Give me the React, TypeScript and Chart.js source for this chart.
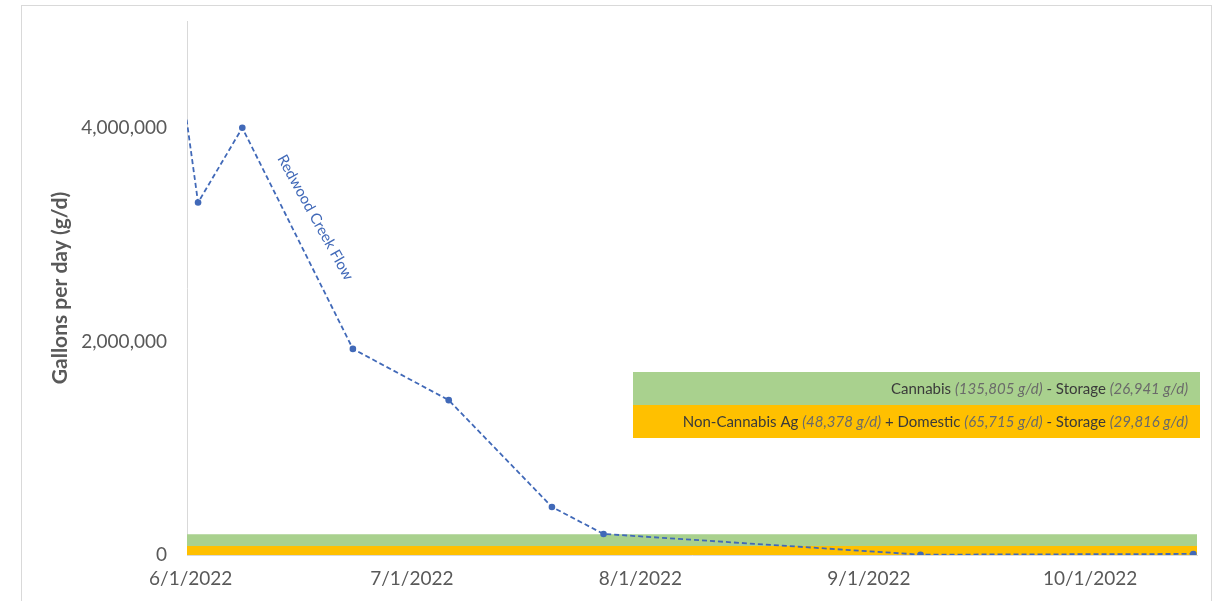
import { useEffect, useRef } from "react";
import { Chart, registerables } from "chart.js";

Chart.register(...registerables);

// Redwood Creek flow samples (gallons per day)
const flowDates = [
  "2022-05-31",
  "2022-06-02",
  "2022-06-08",
  "2022-06-23",
  "2022-07-06",
  "2022-07-20",
  "2022-07-27",
  "2022-09-08",
  "2022-10-15",
];
const flowValues = [4300000, 3300000, 4000000, 1930000, 1450000, 450000, 197000, 3000, 10000];

// Axis ticks
const xTickDates = ["2022-06-01", "2022-07-01", "2022-08-01", "2022-09-01", "2022-10-01"];
const yTickValues = [0, 2000000, 4000000];

// Demand components (g/d)
const cannabisDemand = 135805;
const cannabisStorage = 26941;
const nonCannabisAgDemand = 48378;
const domesticDemand = 65715;
const otherStorage = 29816;

const BASE_DATE = Date.UTC(2022, 5, 1);
const DAY_MS = 86400000;

function dayOffset(iso: string): number {
  const [y, m, d] = iso.split("-").map(Number);
  return (Date.UTC(y, m - 1, d) - BASE_DATE) / DAY_MS;
}

function formatDay(offset: number): string {
  const dt = new Date(BASE_DATE + Math.round(offset) * DAY_MS);
  return `${dt.getUTCMonth() + 1}/${dt.getUTCDate()}/${dt.getUTCFullYear()}`;
}

const fmt = (n: number) => n.toLocaleString("en-US");

const X_MIN = -0.5;
const X_MAX = dayOffset("2022-10-15") + 0.5;

const FONT = "Lato, 'Open Sans', sans-serif";
const BLUE = "#4169B8";
const GREEN = "#A9D18E";
const ORANGE = "#FFC000";

type Part = { text: string; italic?: boolean };

function drawRichRight(ctx: CanvasRenderingContext2D, parts: Part[], rightX: number, y: number) {
  let x = rightX;
  ctx.textAlign = "left";
  ctx.textBaseline = "middle";
  for (let i = parts.length - 1; i >= 0; i--) {
    const p = parts[i];
    ctx.font = `${p.italic ? "italic " : ""}15px ${FONT}`;
    const w = ctx.measureText(p.text).width;
    x -= w;
    ctx.fillStyle = p.italic ? "#6a6a6a" : "#3a3a3a";
    ctx.fillText(p.text, x, y);
  }
}

const framePlugin = {
  id: "frame",
  beforeDraw(chart: any) {
    const ctx = chart.ctx as CanvasRenderingContext2D;
    ctx.save();
    ctx.fillStyle = "#ffffff";
    ctx.fillRect(0, 0, chart.width, chart.height);
    ctx.strokeStyle = "#d9d9d9";
    ctx.lineWidth = 1;
    ctx.strokeRect(21.5, 5.5, 1190, 700);
    ctx.restore();
  },
};

const annotationPlugin = {
  id: "annotations",
  afterDraw(chart: any) {
    const ctx = chart.ctx as CanvasRenderingContext2D;
    const xs = chart.scales.x;
    const ys = chart.scales.y;
    ctx.save();

    // Series label along the falling limb of the flow line
    const lx = xs.getPixelForValue(16.9);
    const ly = ys.getPixelForValue(3160000);
    ctx.translate(lx, ly);
    ctx.rotate((61 * Math.PI) / 180);
    ctx.font = `15px ${FONT}`;
    ctx.fillStyle = BLUE;
    ctx.textAlign = "center";
    ctx.textBaseline = "middle";
    ctx.fillText("Redwood Creek Flow", 0, 0);
    ctx.setTransform(1, 0, 0, 1, 0, 0);

    // Legend block for the demand bands
    const left = 633;
    const right = 1200;
    const top = 372;
    const rowH = 33;
    ctx.fillStyle = GREEN;
    ctx.fillRect(left, top, right - left, rowH);
    ctx.fillStyle = ORANGE;
    ctx.fillRect(left, top + rowH, right - left, rowH);

    drawRichRight(
      ctx,
      [
        { text: "Cannabis " },
        { text: `(${fmt(cannabisDemand)} g/d)`, italic: true },
        { text: " - Storage " },
        { text: `(${fmt(cannabisStorage)} g/d)`, italic: true },
      ],
      right - 12,
      top + rowH / 2 + 1
    );
    drawRichRight(
      ctx,
      [
        { text: "Non-Cannabis Ag " },
        { text: `(${fmt(nonCannabisAgDemand)} g/d)`, italic: true },
        { text: " + Domestic " },
        { text: `(${fmt(domesticDemand)} g/d)`, italic: true },
        { text: " - Storage " },
        { text: `(${fmt(otherStorage)} g/d)`, italic: true },
      ],
      right - 12,
      top + rowH * 1.5 + 1
    );
    ctx.restore();
  },
};

export default function App() {
  const canvasRef = useRef<HTMLCanvasElement | null>(null);

  useEffect(() => {
    if (!canvasRef.current) return;

    const orangeTop = nonCannabisAgDemand + domesticDemand - otherStorage;
    const greenTop = orangeTop + (cannabisDemand - cannabisStorage);

    const chart = new Chart(canvasRef.current, {
      type: "line",
      data: {
        datasets: [
          {
            label: "Redwood Creek Flow",
            data: flowDates.map((d, i) => ({ x: dayOffset(d), y: flowValues[i] })),
            borderColor: BLUE,
            backgroundColor: BLUE,
            borderWidth: 1.8,
            borderDash: [5, 3],
            pointRadius: 3.3,
            pointBorderWidth: 0,
            pointBackgroundColor: BLUE,
            fill: false,
            tension: 0,
          },
          {
            label: "Non-Cannabis Ag + Domestic - Storage",
            data: [
              { x: X_MIN, y: orangeTop },
              { x: X_MAX, y: orangeTop },
            ],
            borderWidth: 0,
            pointRadius: 0,
            backgroundColor: ORANGE,
            fill: "origin",
          },
          {
            label: "Cannabis - Storage",
            data: [
              { x: X_MIN, y: greenTop },
              { x: X_MAX, y: greenTop },
            ],
            borderWidth: 0,
            pointRadius: 0,
            backgroundColor: GREEN,
            fill: 1,
          },
        ],
      },
      options: {
        animation: false,
        responsive: false,
        devicePixelRatio: 1,
        layout: { padding: { left: 0, top: 21, right: 21, bottom: 0 } },
        plugins: {
          legend: { display: false },
          tooltip: { enabled: false },
        },
        scales: {
          x: {
            type: "linear",
            min: X_MIN,
            max: X_MAX,
            grid: { display: false, drawTicks: false },
            border: { display: true, color: "#d9d9d9" },
            afterBuildTicks(scale: any) {
              scale.ticks = xTickDates.map((d) => ({ value: dayOffset(d) }));
            },
            afterFit(scale: any) {
              scale.height = 46;
              scale.paddingLeft = 0;
              scale.paddingRight = 0;
            },
            ticks: {
              autoSkip: false,
              maxRotation: 0,
              padding: 12,
              color: "#595959",
              font: { family: FONT, size: 19 },
              callback: (v: any) => formatDay(Number(v)),
            },
          },
          y: {
            type: "linear",
            min: 0,
            max: 5000000,
            grid: { display: false, drawTicks: false },
            border: { display: true, color: "#d9d9d9" },
            afterBuildTicks(scale: any) {
              scale.ticks = yTickValues.map((v) => ({ value: v }));
            },
            afterFit(scale: any) {
              scale.width = 187;
              scale.paddingTop = 0;
              scale.paddingBottom = 0;
            },
            ticks: {
              padding: 20,
              color: "#595959",
              font: { family: FONT, size: 19 },
              callback: (v: any) => fmt(Number(v)),
            },
            title: {
              display: true,
              text: "Gallons per day (g/d)",
              color: "#595959",
              font: { family: FONT, size: 21, weight: "bold" },
              padding: { top: 48, bottom: 0 },
            },
          },
        },
      },
      plugins: [framePlugin, annotationPlugin],
    });

    return () => chart.destroy();
  }, []);

  return (
    <div style={{ position: "fixed", left: 0, top: 0, width: 1218, height: 601, background: "#fff" }}>
      <canvas ref={canvasRef} width={1218} height={601} style={{ display: "block" }} />
    </div>
  );
}
